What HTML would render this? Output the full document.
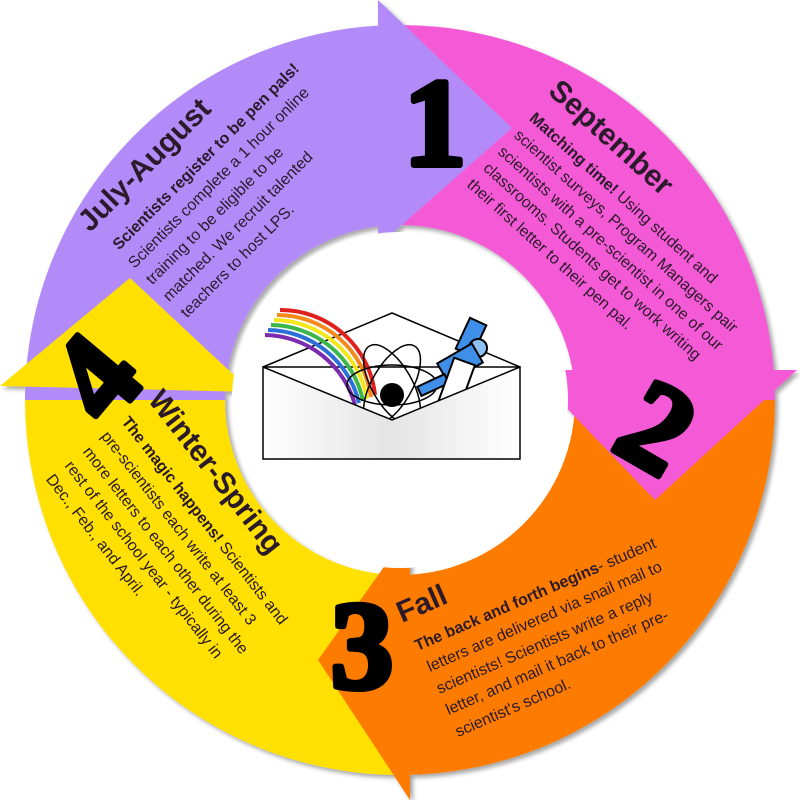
<!DOCTYPE html>
<html><head><meta charset="utf-8"><style>
html,body{margin:0;padding:0;background:#fff;width:800px;height:800px;overflow:hidden}
text{font-family:"Liberation Sans",sans-serif}
.t{font-weight:bold;font-size:30px;fill:#2a1a2a}
.b{font-size:16px;fill:#2a1a2a}
.bb{font-size:16px;fill:#2a1a2a;font-weight:bold}
.n{font-family:"Liberation Serif",serif;font-weight:bold;font-size:125px;fill:#000;stroke:#000;stroke-width:6;stroke-linejoin:round;text-anchor:middle}
</style></head><body>
<svg width="800" height="800" viewBox="0 0 800 800" xmlns="http://www.w3.org/2000/svg">
<defs><filter id="sh" x="-10%" y="-10%" width="120%" height="120%"><feDropShadow dx="3" dy="3" stdDeviation="2" flood-color="#000" flood-opacity="0.35"/></filter></defs>
<g filter="url(#sh)">
<path d="M25,400 A375,375 0 0 1 400,25 L400,225 A175,175 0 0 0 225,400 Z" fill="#b38bf9"/>
<path d="M400,25 A375,375 0 0 1 775,400 L575,400 A175,175 0 0 0 400,225 Z" fill="#f55ad6"/>
<path d="M775,400 A375,375 0 0 1 400,775 L400,575 A175,175 0 0 0 575,400 Z" fill="#fd7b03"/>
<path d="M400,775 A375,375 0 0 1 25,400 L225,400 A175,175 0 0 0 400,575 Z" fill="#ffe000"/>
<polygon points="378,0 378,246 512,128" fill="#b38bf9"/>
<polygon points="530,370 797,370 655,500" fill="#f55ad6"/>
<polygon points="410,530 410,800 318,660" fill="#fd7b03"/>
<polygon points="0,386 252,392 130,278" fill="#ffe000"/>
</g>
<circle cx="400" cy="400" r="168" fill="#fff"/>
<!-- envelope -->
<defs><linearGradient id="eg" x1="0" x2="1"><stop offset="0" stop-color="#fff"/><stop offset="0.5" stop-color="#e4e4e4"/><stop offset="1" stop-color="#fff"/></linearGradient></defs>
<polygon points="263,367 392,313 520,367" fill="#fff" stroke="#000" stroke-width="1.5"/>
<path d="M265,335 A95,95 0 0 1 355,405" fill="none" stroke="#7a2bb0" stroke-width="4"/>
<path d="M268,330 A95,95 0 0 1 359,403" fill="none" stroke="#2b6fd8" stroke-width="4"/>
<path d="M271,325 A95,95 0 0 1 363,401" fill="none" stroke="#3cb54a" stroke-width="4"/>
<path d="M274,320 A95,95 0 0 1 367,399" fill="none" stroke="#f4e81c" stroke-width="4"/>
<path d="M277,315 A95,95 0 0 1 371,397" fill="none" stroke="#f48a1c" stroke-width="4"/>
<path d="M280,310 A95,95 0 0 1 375,395" fill="none" stroke="#e0201c" stroke-width="4"/>
<ellipse cx="392" cy="385" rx="45" ry="20" fill="none" stroke="#000" stroke-width="1.5"/>
<ellipse cx="392" cy="385" rx="45" ry="20" fill="none" stroke="#000" stroke-width="1.5" transform="rotate(60 392 385)"/>
<ellipse cx="392" cy="385" rx="45" ry="20" fill="none" stroke="#000" stroke-width="1.5" transform="rotate(-60 392 385)"/>
<circle cx="392" cy="395" r="12" fill="#000"/>
<g stroke="#000" stroke-width="2" fill="#3f8fe8">
<rect x="462" y="320" width="18" height="34" transform="rotate(25 471 337)"/>
<circle cx="478" cy="348" r="9" fill="#8ec0f4"/>
<rect x="440" y="352" width="40" height="22" transform="rotate(-30 460 363)"/>
<rect x="418" y="380" width="30" height="10" transform="rotate(-25 433 385)"/>
<rect x="445" y="360" width="22" height="50" fill="#fff" transform="rotate(20 456 385)"/>
</g>
<polygon points="263,367 392,420 520,367 520,459 263,459" fill="url(#eg)" stroke="#000" stroke-width="1.5"/>
<!-- numbers -->
<text class="n" x="435" y="165">1</text>
<text class="n" transform="translate(657,427) rotate(30)" y="42">2</text>
<text class="n" x="362" y="688">3</text>
<text class="n" transform="translate(95,377) rotate(-50)" y="42">4</text>
<!-- purple -->
<g transform="translate(90,233) rotate(-45)">
<text class="t" x="0" y="0">July-August</text>
<text class="bb" x="8" y="33">Scientists register to be pen pals!</text>
<text class="b" x="6" y="57">Scientists complete a 1 hour online</text>
<text class="b" x="7" y="81">training to be eligible to be</text>
<text class="b" x="7" y="105">matched. We recruit talented</text>
<text class="b" x="8" y="129">teachers to host LPS.</text>
</g>
<!-- pink -->
<g transform="translate(547,93) rotate(42)">
<text class="t" x="0" y="0">September</text>
<text class="b" x="4" y="32"><tspan font-weight="bold">Matching time!</tspan> Using student and</text>
<text class="b" x="4" y="55">scientist surveys, Program Managers pair</text>
<text class="b" x="3" y="78">scientists with a pre-scientist in one of our</text>
<text class="b" x="3" y="100">classrooms. Students get to work writing</text>
<text class="b" x="2" y="123">their first letter to their pen pal.</text>
</g>
<!-- orange -->
<g transform="translate(402,623) rotate(-23.5)">
<text class="t" x="0" y="0">Fall</text>
<text class="b" x="3" y="32"><tspan font-weight="bold">The back and forth begins</tspan>-  student</text>
<text class="b" x="6" y="56">letters are delivered via snail mail to</text>
<text class="b" x="6" y="80">scientists! Scientists write a reply</text>
<text class="b" x="6" y="103">letter, and mail it back to their pre-</text>
<text class="b" x="6" y="127">scientist's school.</text>
</g>
<!-- yellow -->
<g transform="translate(147,400) rotate(52)">
<text class="t" x="0" y="0">Winter-Spring</text>
<text class="b" x="1" y="34"><tspan font-weight="bold">The magic happens!</tspan> Scientists and</text>
<text class="b" x="0" y="59">pre-scientists each write at least 3</text>
<text class="b" x="1" y="83">more letters to each other during the</text>
<text class="b" x="1" y="106">rest of the school year - typically in</text>
<text class="b" x="0" y="129">Dec., Feb., and April.</text>
</g>
</svg>
</body></html>
